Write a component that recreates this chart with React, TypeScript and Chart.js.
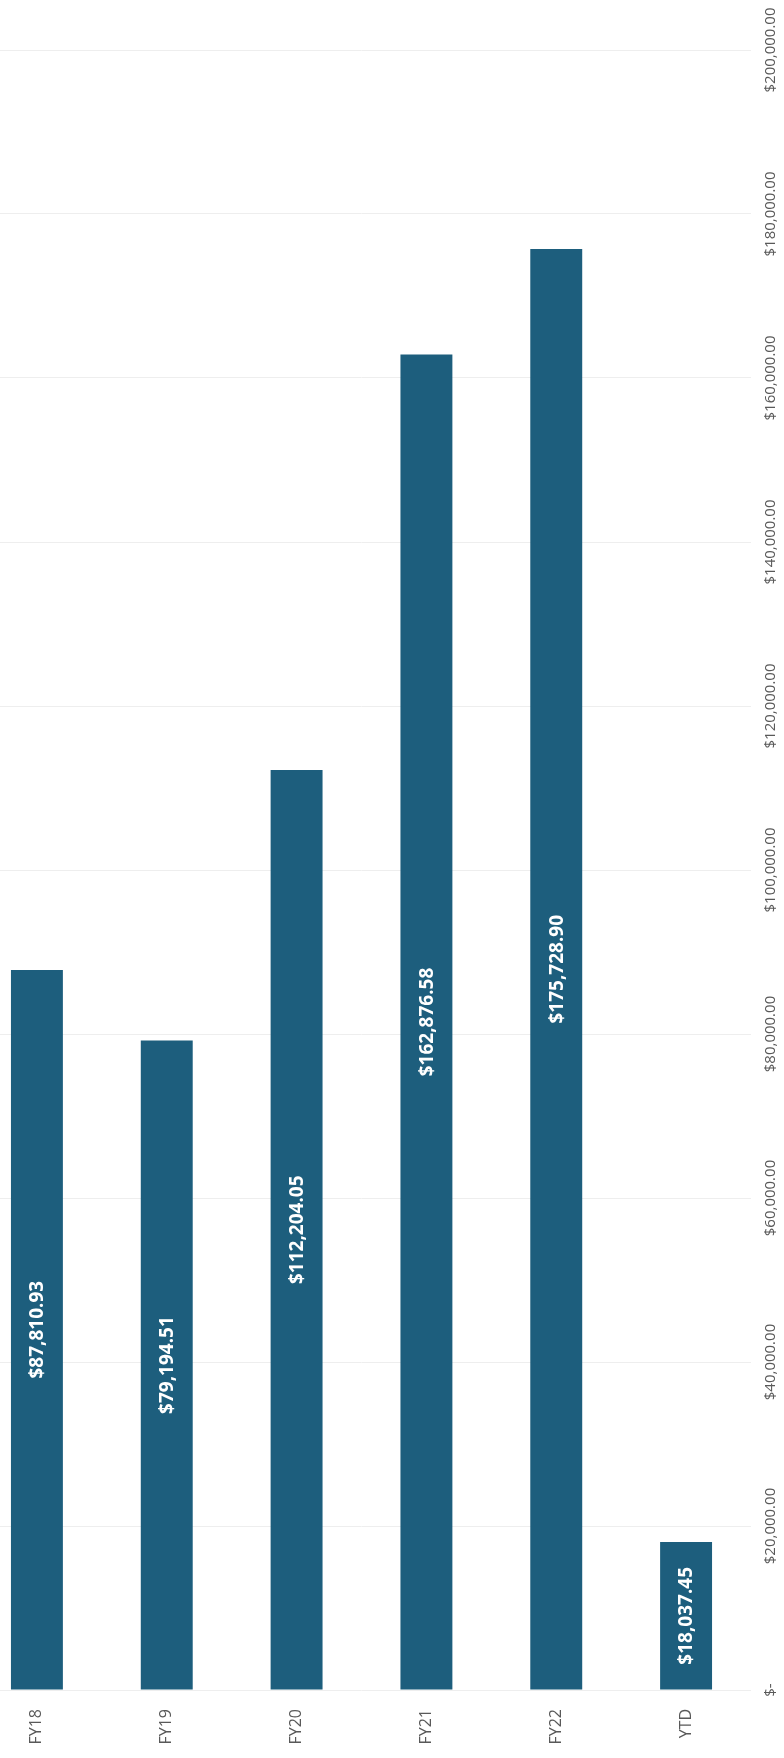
import React, { useEffect, useRef } from "react";
import { Chart, registerables } from "chart.js";

Chart.register(...registerables);

const categories = ["FY18", "FY19", "FY20", "FY21", "FY22", "YTD"];
const totals = [87810.93, 79194.51, 112204.05, 162876.58, 175728.9, 18037.45];
const barLabels = ["$87,810.93", "$79,194.51", "$112,204.05", "$162,876.58", "$175,728.90", "$18,037.45"];
const valueTicks = [0, 20000, 40000, 60000, 80000, 100000, 120000, 140000, 160000, 180000, 200000];
const valueTickLabels = [
  "$-",
  "$20,000.00",
  "$40,000.00",
  "$60,000.00",
  "$80,000.00",
  "$100,000.00",
  "$120,000.00",
  "$140,000.00",
  "$160,000.00",
  "$180,000.00",
  "$200,000.00",
];

const CANVAS_W = 812;
const CANVAS_H = 1758;
const BAR_COLOR = "#1D5E7D";
const TEXT_GRAY = "#595959";
const FONT = "'Open Sans', 'Noto Sans', sans-serif";

const labelPlugin = {
  id: "rotatedLabels",
  afterDatasetsDraw(chart: any) {
    const ctx: CanvasRenderingContext2D = chart.ctx;
    const area = chart.chartArea;
    const xs = chart.scales.x;
    const ys = chart.scales.y;
    const meta = chart.getDatasetMeta(0);

    // values inside bars
    ctx.save();
    ctx.fillStyle = "#ffffff";
    ctx.font = `bold 19px ${FONT}`;
    ctx.textAlign = "center";
    ctx.textBaseline = "middle";
    meta.data.forEach((el: any, i: number) => {
      const cx = el.x;
      const cy = (el.y + el.base) / 2;
      ctx.save();
      ctx.translate(cx, cy);
      ctx.rotate(-Math.PI / 2);
      ctx.fillText(barLabels[i], 0, 1);
      ctx.restore();
    });
    ctx.restore();

    // category labels below the axis
    ctx.save();
    ctx.fillStyle = TEXT_GRAY;
    ctx.font = `16px ${FONT}`;
    ctx.textAlign = "right";
    ctx.textBaseline = "middle";
    categories.forEach((c, i) => {
      const px = xs.getPixelForValue(i);
      ctx.save();
      ctx.translate(px, area.bottom + 19);
      ctx.rotate(-Math.PI / 2);
      ctx.fillText(c, 0, 0);
      ctx.restore();
    });
    ctx.restore();

    // value axis labels on the right
    ctx.save();
    ctx.fillStyle = TEXT_GRAY;
    ctx.font = `15px ${FONT}`;
    ctx.textAlign = "center";
    ctx.textBaseline = "middle";
    valueTicks.forEach((v, i) => {
      const py = ys.getPixelForValue(v);
      ctx.save();
      ctx.translate(area.right + 20, py);
      ctx.rotate(-Math.PI / 2);
      ctx.fillText(valueTickLabels[i], 0, 0);
      ctx.restore();
    });
    ctx.restore();
  },
};

export default function App() {
  const canvasRef = useRef<HTMLCanvasElement | null>(null);

  useEffect(() => {
    if (!canvasRef.current) return;
    const chart = new Chart(canvasRef.current, {
      type: "bar",
      data: {
        labels: categories,
        datasets: [
          {
            data: totals,
            backgroundColor: BAR_COLOR,
            borderWidth: 0,
            categoryPercentage: 1,
            barPercentage: 0.4,
          },
        ],
      },
      options: {
        animation: false,
        responsive: false,
        devicePixelRatio: 1,
        layout: { padding: { left: 0, right: 33, top: 50, bottom: 68 } },
        plugins: {
          legend: { display: false },
          tooltip: { enabled: false },
          title: { display: false },
        },
        scales: {
          x: {
            grid: { display: false, drawTicks: false },
            border: { display: false },
            ticks: { display: false },
          },
          y: {
            min: 0,
            max: 200000,
            grid: { color: "#eeeeee", lineWidth: 1, drawTicks: false },
            border: { display: false },
            ticks: { display: false, stepSize: 20000 },
          },
        },
      },
      plugins: [labelPlugin],
    });
    return () => chart.destroy();
  }, []);

  return (
    <div
      style={{
        position: "fixed",
        left: 0,
        top: 0,
        width: 784,
        height: 1758,
        overflow: "hidden",
        background: "#ffffff",
      }}
    >
      <canvas
        ref={canvasRef}
        width={CANVAS_W}
        height={CANVAS_H}
        style={{ position: "absolute", left: -28, top: 0, width: CANVAS_W, height: CANVAS_H }}
      />
    </div>
  );
}
